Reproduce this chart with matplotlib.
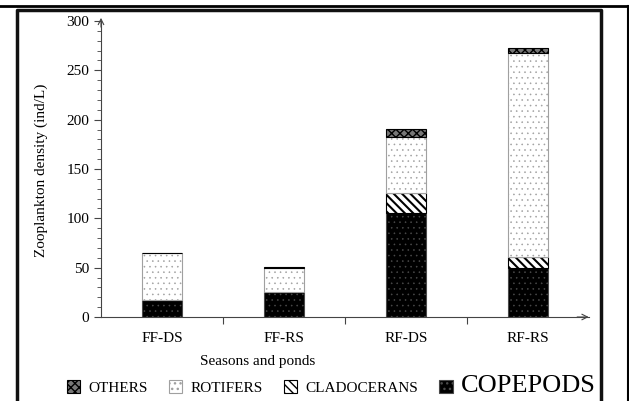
import matplotlib
matplotlib.use("Agg")
from matplotlib import pyplot as plt
from matplotlib.lines import Line2D

plt.rcParams["font.family"] = ["Liberation Serif", "DejaVu Serif"]

categories = ["FF-DS", "FF-RS", "RF-DS", "RF-RS"]
copepods = [17, 25, 105, 50]
cladocerans = [0, 0, 21, 11]
rotifers = [48, 24.5, 56, 207]
others = [0, 1.5, 9, 5]

# name, values, bar style, hatch line width
series = [
    ("COPEPODS", copepods, dict(color="black", edgecolor="#4a4a4a", hatch="..."), 0.4),
    ("CLADOCERANS", cladocerans, dict(color="white", edgecolor="black", hatch="\\\\\\\\"), 1.5),
    ("ROTIFERS", rotifers, dict(color="white", edgecolor="#a0a0a0", hatch="..."), 0.4),
    ("OTHERS", others, dict(color="#777777", edgecolor="black", hatch="xxxx"), 1.0),
]

fig = plt.figure(figsize=(6.29, 4.01), dpi=100)
ax = fig.add_axes([101 / 629, 84 / 401, 488 / 629, 296 / 401])

x = list(range(len(categories)))
bottom = [0] * len(categories)
handles = {}
for name, vals, style, hlw in series:
    with plt.rc_context({"hatch.linewidth": hlw}):
        bars = ax.bar(x, vals, width=0.32, bottom=bottom, linewidth=0.8, **style)
    for p in bars:
        if hasattr(p, "set_hatch_linewidth"):
            p.set_hatch_linewidth(hlw)
    handles[name] = bars
    bottom = [b + v for b, v in zip(bottom, vals)]

ax.set_xlim(-0.5, 3.5)
ax.set_ylim(0, 300)
ax.spines["top"].set_visible(False)
ax.spines["right"].set_visible(False)
for s in ("left", "bottom"):
    ax.spines[s].set_color("#444444")
    ax.spines[s].set_linewidth(0.8)

ax.set_yticks(range(0, 301, 50))
ax.set_yticks(range(0, 301, 10), minor=True)
ax.tick_params(axis="y", which="major", length=5, labelsize=11, color="#444444")
ax.tick_params(axis="y", which="minor", length=3, color="#444444")
ax.set_xticks([0.5, 1.5, 2.5])
ax.set_xticks(x, minor=True)
ax.set_xticklabels([])
ax.set_xticklabels(categories, minor=True)
ax.tick_params(axis="x", which="major", length=5, color="#444444")
ax.tick_params(axis="x", which="minor", length=0, labelsize=11, pad=11)

# open arrow heads at the axis ends
ax.annotate("", xy=(0, 1.02), xytext=(0, 0.97), xycoords="axes fraction",
            arrowprops=dict(arrowstyle="->", color="#444444", lw=0.8))
ax.annotate("", xy=(1.005, 0), xytext=(0.97, 0), xycoords="axes fraction",
            arrowprops=dict(arrowstyle="->", color="#444444", lw=0.8))

fig.text(41 / 629, 1 - 170 / 401, "Zooplankton density (ind/L)", rotation=90,
         ha="center", va="center", fontsize=11)
fig.text(258 / 629, 1 - 362 / 401, "Seasons and ponds", ha="center", va="center",
         fontsize=11)

order = ["OTHERS", "ROTIFERS", "CLADOCERANS", "COPEPODS"]
leg = fig.legend([handles[n] for n in order], order, ncol=4, frameon=False,
                 loc="center", bbox_to_anchor=(331 / 629, 1 - 386 / 401),
                 fontsize=11, handlelength=0.9, handleheight=0.9,
                 handletextpad=0.5, columnspacing=1.4)
leg.get_texts()[3].set_fontsize(19)

# page frame
fig.add_artist(Line2D([0, 628 / 629], [1 - 6 / 401] * 2, color="black", lw=2))
fig.add_artist(Line2D([628 / 629] * 2, [0, 1 - 6 / 401], color="black", lw=1.5))
fig.add_artist(Line2D([17 / 629, 17 / 629, 601 / 629, 601 / 629],
                      [0, 1 - 10 / 401, 1 - 10 / 401, 0], color="#111111", lw=2.5))

fig.savefig("out.png", dpi=100)
